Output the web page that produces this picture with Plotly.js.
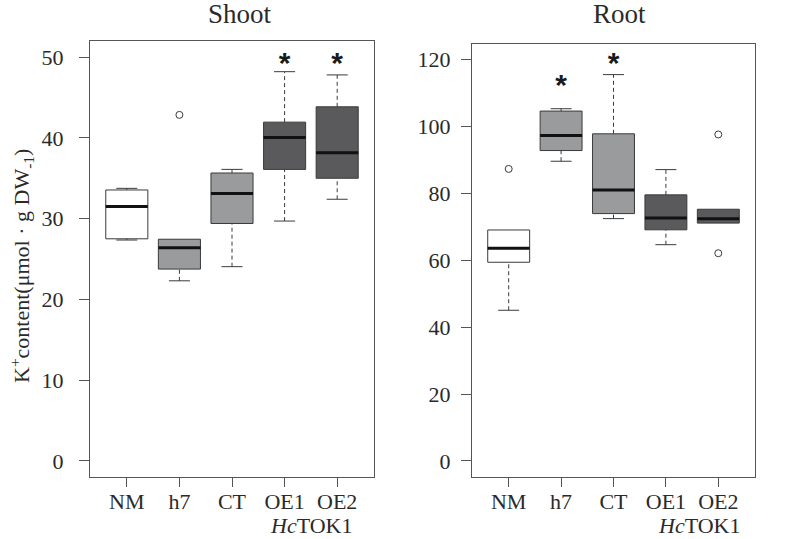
<!DOCTYPE html>
<html>
<head>
<meta charset="utf-8">
<script src="https://cdn.plot.ly/plotly-3.0.1.min.js"></script>
<style>html,body{margin:0;padding:0;background:#fff;}#chart{width:800px;height:539px;}</style>
</head>
<body>
<div id="chart"></div>
<script>
// ---- data ----
const categories = ['NM', 'h7', 'CT', 'OE1', 'OE2'];

const shootQ1     = [27.5, 23.75, 29.4, 36.1, 35.0];
const shootMedian = [31.5, 26.4, 33.1, 40.05, 38.15];
const shootQ3     = [33.55, 27.45, 35.65, 41.95, 43.85];
const shootLower  = [27.35, 22.3, 24.05, 29.7, 32.4];
const shootUpper  = [33.75, 27.45, 36.1, 48.2, 47.8];
const shootOutlierCat = ['h7'];
const shootOutlierVal = [42.85];
const shootSigCat = ['OE1', 'OE2'];
const shootSigVal = [48.95, 48.95];

const rootQ1     = [59.4, 92.8, 73.95, 69.1, 71.1];
const rootMedian = [63.6, 97.3, 81.0, 72.6, 72.4];
const rootQ3     = [69.05, 104.6, 97.8, 79.55, 75.25];
const rootLower  = [45.05, 89.6, 72.45, 64.65, 71.1];
const rootUpper  = [69.05, 105.3, 115.5, 87.1, 75.25];
const rootOutlierCat = ['NM', 'OE2', 'OE2'];
const rootOutlierVal = [87.3, 97.6, 62.1];
const rootSigCat = ['h7', 'CT'];
const rootSigVal = [111.5, 118.2];

const shootTicks = [0, 10, 20, 30, 40, 50];
const rootTicks = [0, 20, 40, 60, 80, 100, 120];

// ---- style ----
const fills = ['#ffffff', '#9a9b9d', '#9a9b9d', '#5a5a5c', '#5a5a5c'];
const edge = '#3a3a3a';
const axisCol = '#555555';
const txtCol = '#2a2a2a';
const serif = 'Liberation Serif, Times New Roman, serif';
const boxW = 0.8, stapleW = 0.4;

const pos = categories.map((c, i) => i + 1);
const idx = c => categories.indexOf(c) + 1;

function panel(q1, med, q3, lo, hi, oCat, oVal, sCat, sVal, xa, ya) {
  const tr = [];
  categories.forEach((c, i) => {
    tr.push({
      type: 'box', x: [pos[i]], q1: [q1[i]], median: [med[i]], q3: [q3[i]],
      lowerfence: [q1[i]], upperfence: [q3[i]], width: boxW, whiskerwidth: 0,
      fillcolor: fills[i], line: { color: edge, width: 1 }, boxpoints: false,
      xaxis: xa, yaxis: ya, hoverinfo: 'skip', showlegend: false
    });
  });
  const wx = [], wy = [], sx = [], sy = [], mx = [], my = [];
  categories.forEach((c, i) => {
    const p = pos[i];
    if (hi[i] > q3[i]) {
      wx.push(p, p, null); wy.push(q3[i], hi[i], null);
      sx.push(p - stapleW / 2, p + stapleW / 2, null); sy.push(hi[i], hi[i], null);
    }
    if (lo[i] < q1[i]) {
      wx.push(p, p, null); wy.push(lo[i], q1[i], null);
      sx.push(p - stapleW / 2, p + stapleW / 2, null); sy.push(lo[i], lo[i], null);
    }
    mx.push(p - boxW / 2, p + boxW / 2, null); my.push(med[i], med[i], null);
  });
  tr.push({ type: 'scatter', mode: 'lines', x: wx, y: wy, line: { color: edge, width: 1, dash: '4px,3px' },
            xaxis: xa, yaxis: ya, hoverinfo: 'skip', showlegend: false });
  tr.push({ type: 'scatter', mode: 'lines', x: sx, y: sy, line: { color: edge, width: 1 },
            xaxis: xa, yaxis: ya, hoverinfo: 'skip', showlegend: false });
  tr.push({ type: 'scatter', mode: 'lines', x: mx, y: my, line: { color: '#111111', width: 3 },
            xaxis: xa, yaxis: ya, hoverinfo: 'skip', showlegend: false });
  tr.push({ type: 'scatter', mode: 'markers', x: oCat.map(idx), y: oVal,
            marker: { symbol: 'circle-open', size: 7, color: edge, line: { width: 1, color: edge } },
            xaxis: xa, yaxis: ya, hoverinfo: 'skip', showlegend: false });
  tr.push({ type: 'scatter', mode: 'text', x: sCat.map(idx), y: sVal, text: sCat.map(() => '*'),
            textposition: 'middle center',
            textfont: { family: 'Liberation Sans, Arial, sans-serif', size: 30, color: '#1a1a1a', weight: 'bold' },
            xaxis: xa, yaxis: ya, hoverinfo: 'skip', showlegend: false });
  return tr;
}

const data = [].concat(
  panel(shootQ1, shootMedian, shootQ3, shootLower, shootUpper, shootOutlierCat, shootOutlierVal, shootSigCat, shootSigVal, 'x', 'y'),
  panel(rootQ1, rootMedian, rootQ3, rootLower, rootUpper, rootOutlierCat, rootOutlierVal, rootSigCat, rootSigVal, 'x2', 'y2')
);

const W = 800, H = 539;
const xAx = (d) => ({
  domain: d, range: [0.3, 5.7], tickmode: 'array', tickvals: pos, ticktext: categories,
  ticks: 'outside', ticklen: 9, tickcolor: axisCol, tickwidth: 1,
  showline: true, mirror: true, linecolor: axisCol, linewidth: 1,
  showgrid: false, zeroline: false, fixedrange: true, ticklabelstandoff: -4,
  tickfont: { family: serif, size: 22, color: txtCol }
});
const yAx = (d, r, tv, so) => ({
  domain: d, range: r, tickmode: 'array', tickvals: tv,
  ticks: 'outside', ticklen: 10, tickcolor: axisCol, tickwidth: 1,
  showline: true, mirror: true, linecolor: axisCol, linewidth: 1,
  showgrid: false, zeroline: false, fixedrange: true, ticklabelstandoff: so,
  tickfont: { family: serif, size: 22, color: txtCol }
});

const layout = {
  width: W, height: H,
  margin: { l: 0, r: 0, t: 0, b: 0 },
  paper_bgcolor: '#ffffff', plot_bgcolor: '#ffffff',
  showlegend: false,
  xaxis: Object.assign(xAx([90 / W, 374 / W]), { anchor: 'y' }),
  yaxis: Object.assign(yAx([1 - 477 / H, 1 - 41 / H], [-2, 52], shootTicks, 11), { anchor: 'x' }),
  xaxis2: Object.assign(xAx([472 / W, 755 / W]), { anchor: 'y2' }),
  yaxis2: Object.assign(yAx([1 - 477 / H, 1 - 43.5 / H], [-4.8, 124.8], rootTicks, 6), { anchor: 'x2' }),
  annotations: [
    { text: 'Shoot', xref: 'paper', yref: 'paper', x: 240.5 / W, y: 1 - 14 / H, xanchor: 'center', yanchor: 'middle',
      showarrow: false, font: { family: serif, size: 27, color: txtCol } },
    { text: 'Root', xref: 'paper', yref: 'paper', x: 619.5 / W, y: 1 - 14 / H, xanchor: 'center', yanchor: 'middle',
      showarrow: false, font: { family: serif, size: 27, color: txtCol } },
    { text: 'K<sup>+</sup>content(μmol · g DW<sub>-1</sub>)', xref: 'paper', yref: 'paper',
      x: 22 / W, y: 1 - 266 / H, xanchor: 'center', yanchor: 'middle', textangle: -90,
      showarrow: false, font: { family: serif, size: 22, color: txtCol } },
    { text: '<i>Hc</i>TOK1', xref: 'x', yref: 'paper', x: 4.5, y: 1 - 525 / H, xanchor: 'center', yanchor: 'middle',
      showarrow: false, font: { family: serif, size: 22, color: txtCol } },
    { text: '<i>Hc</i>TOK1', xref: 'x2', yref: 'paper', x: 4.64, y: 1 - 525 / H, xanchor: 'center', yanchor: 'middle',
      showarrow: false, font: { family: serif, size: 22, color: txtCol } }
  ]
};

Plotly.newPlot('chart', data, layout, { staticPlot: true, displayModeBar: false });
</script>
</body>
</html>
